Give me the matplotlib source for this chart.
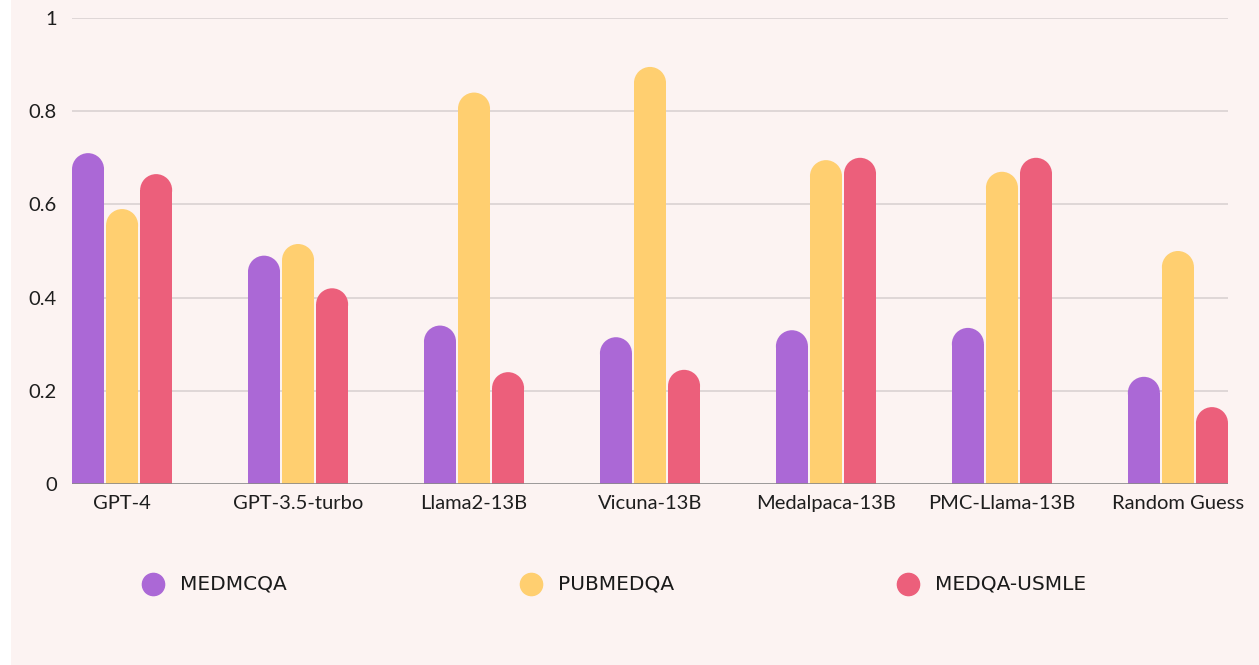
import matplotlib
matplotlib.use("Agg")
import matplotlib.pyplot as plt
from matplotlib.patches import Ellipse, Rectangle
import numpy as np

models = ["GPT-4", "GPT-3.5-turbo", "Llama2-13B", "Vicuna-13B",
          "Medalpaca-13B", "PMC-Llama-13B", "Random Guess"]
medmcqa = [0.71, 0.49, 0.34, 0.315, 0.33, 0.335, 0.23]
pubmedqa = [0.59, 0.515, 0.84, 0.895, 0.695, 0.67, 0.50]
medqa_usmle = [0.665, 0.42, 0.24, 0.245, 0.70, 0.70, 0.165]
series_names = ["MEDMCQA", "PUBMEDQA", "MEDQA-USMLE"]
colors = ["#AB68D6", "#FFCF70", "#EC5F7B"]
yticks = [0, 0.2, 0.4, 0.6, 0.8, 1.0]
ytick_labels = ["0", "0.2", "0.4", "0.6", "0.8", "1"]

BG = "#FCF3F2"
fig = plt.figure(figsize=(12.59, 6.65), dpi=100, facecolor=BG)
# white strip on the left
fig.patches.append(Rectangle((0, 0), 11 / 1259, 1, transform=fig.transFigure,
                             facecolor="white", edgecolor="none", zorder=0))

ax = fig.add_axes([72 / 1259, (665 - 484) / 665, (1228 - 72) / 1259, 466 / 665])
ax.set_facecolor(BG)
ax.patch.set_alpha(0)

bw = 0.182
pitch = 0.1935
x = np.arange(len(models))
ax.set_xlim(-0.2846, len(models) - 1 + 0.2846)
ax.set_ylim(0, 1)

fig.canvas.draw()
p0 = ax.transData.transform((0, 0))
p1 = ax.transData.transform((bw, 1))
w_px = p1[0] - p0[0]
h_px = p1[1] - p0[1]
r = (w_px / 2) / h_px  # cap radius in data-y units

for i, (vals, c) in enumerate(zip([medmcqa, pubmedqa, medqa_usmle], colors)):
    xs = x + (i - 1) * pitch
    heights = [max(v - r, 0) for v in vals]
    ax.bar(xs, heights, width=bw, color=c, zorder=3, linewidth=0)
    for xi, v in zip(xs, vals):
        ax.add_patch(Ellipse((xi, v - r), bw, 2 * r, facecolor=c,
                             edgecolor="none", zorder=3))

ax.set_yticks(yticks)
ax.set_yticklabels(ytick_labels)
ax.set_xticks(x)
ax.set_xticklabels(models)
for s in ax.spines.values():
    s.set_visible(False)
ax.tick_params(axis="both", length=0, labelsize=14.5, labelcolor="#1e1e1e")
ax.tick_params(axis="y", pad=11)
ax.tick_params(axis="x", pad=8)
for lab in ax.get_xticklabels() + ax.get_yticklabels():
    lab.set_fontfamily("Lato")
for yv in yticks[1:]:
    ax.axhline(yv, color="#DCD5D5", linewidth=1.3, zorder=1)
ax.axhline(0, color="#8A8A8A", linewidth=1.2, zorder=4)

# legend
leg_x = [153, 531, 908]
leg_y = 584
for lx, name, c in zip(leg_x, series_names, colors):
    fig.add_artist(plt.Line2D([lx / 1259], [1 - leg_y / 665], marker="o",
                              markersize=16, color=c, linestyle="none",
                              transform=fig.transFigure))
    fig.text((lx + 27) / 1259, 1 - leg_y / 665, name, ha="left", va="center",
             fontsize=14.5, family="DejaVu Sans", color="#1a1a1a")

fig.savefig("out.png", dpi=100, facecolor=BG)
